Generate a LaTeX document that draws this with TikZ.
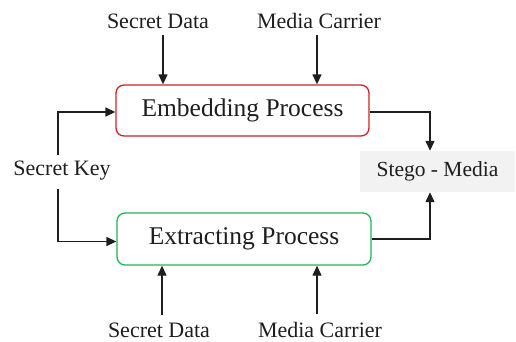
\documentclass[tikz,border=0pt]{standalone}
\usepackage{fontspec}
\setmainfont{Liberation Serif}
\usetikzlibrary{arrows.meta}
\definecolor{embred}{RGB}{205,35,40}
\definecolor{extgreen}{RGB}{35,180,90}
\definecolor{stegogray}{RGB}{242,242,242}
\definecolor{ink}{RGB}{30,30,30}
\tikzset{
  lbl/.style={inner sep=0pt, text=ink, font=\fontsize{22}{24}\selectfont},
  procbox/.style={draw, line width=1.3pt, rounded corners=8pt, text=ink,
    font=\fontsize{25.5}{28}\selectfont, inner sep=0pt},
  arr/.style={draw=ink, line width=1.3pt, -{Triangle[length=10pt,width=9pt]}},
}
\begin{document}
\begin{tikzpicture}[x=1pt,y=-1pt]
  \useasboundingbox (0,0) rectangle (516,341);

  % process boxes
  \node[procbox, draw=embred, minimum width=253pt, minimum height=51pt] (emb) at (242.5,110.5) {Embedding Process};
  \node[procbox, draw=extgreen, minimum width=254pt, minimum height=52pt] (ext) at (244,239) {Extracting Process};
  \node[fill=stegogray, minimum width=155pt, minimum height=41pt, inner sep=0pt,
        text=ink, font=\fontsize{21.5}{24}\selectfont] (stego) at (437.5,171.5) {Stego - Media};

  % inputs
  \node[lbl] (sd1) at (158,21) {Secret Data};
  \node[lbl] (mc1) at (319,21) {Media Carrier};
  \node[lbl] (sd2) at (159,330) {Secret Data};
  \node[lbl] (mc2) at (320,330) {Media Carrier};
  \node[lbl] (key) at (62,171) {Secret Key};

  % connector start points
  \coordinate (sd1s) at (163,35);
  \coordinate (mc1s) at (317,35);
  \coordinate (sd2s) at (162,315);
  \coordinate (mc2s) at (317,314);
  \coordinate (keyt) at (58,155);
  \coordinate (keyb) at (58,189);
  \coordinate (sin) at (430,0);

  \draw[arr] (sd1s) -- (sd1s |- emb.north);
  \draw[arr] (mc1s) -- (mc1s |- emb.north);
  \draw[arr] (sd2s) -- (sd2s |- ext.south);
  \draw[arr] (mc2s) -- (mc2s |- ext.south);

  \draw[arr] (keyt) |- ([yshift=-1.5pt]emb.west);
  \draw[arr] (keyb) |- ([yshift=-2.5pt]ext.west);

  \draw[arr] ([yshift=-1.5pt]emb.east) -| (sin |- stego.north);
  \draw[arr] (ext.east) -| (sin |- stego.south);
\end{tikzpicture}
\end{document}
